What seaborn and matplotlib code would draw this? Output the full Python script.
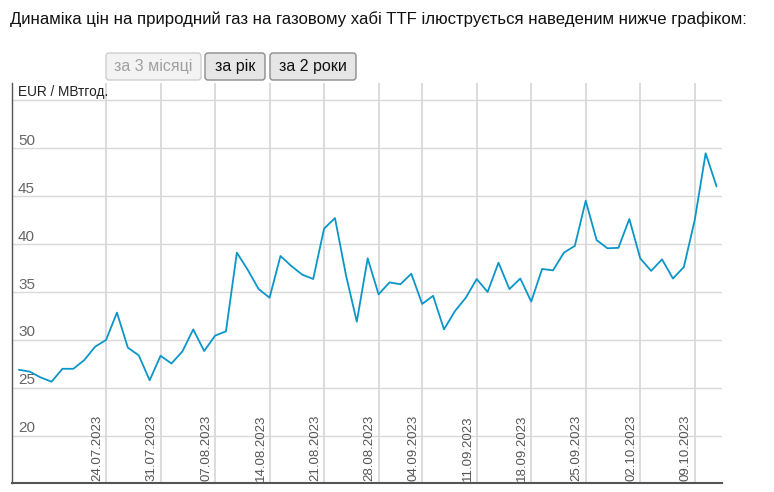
import matplotlib
matplotlib.use("Agg")
import matplotlib.pyplot as plt
import matplotlib.transforms as mtransforms
from matplotlib.patches import FancyBboxPatch
import seaborn as sns
import pandas as pd

# ---- data ----
prices = [26.9, 26.7, 26.1, 25.65, 27.0, 27.0, 27.9, 29.3, 30.0, 32.85,
          29.2, 28.4, 25.8, 28.35, 27.55, 28.8, 31.1, 28.85, 30.45, 30.9,
          39.1, 37.3, 35.3, 34.4, 38.75, 37.7, 36.8, 36.35, 41.6, 42.7,
          36.8, 31.9, 38.5, 34.75, 36.0, 35.8, 36.9, 33.75, 34.6, 31.1,
          33.0, 34.4, 36.35, 35.0, 38.05, 35.3, 36.4, 34.0, 37.4, 37.25,
          39.1, 39.8, 44.5, 40.4, 39.55, 39.6, 42.6, 38.5, 37.2, 38.4,
          36.4, 37.6, 42.5, 49.45, 46.0]
trading_days = [d for d in pd.bdate_range("2023-07-12", "2023-10-11")
                if d != pd.Timestamp("2023-08-28")]
tick_labels = ["24.07.2023", "31.07.2023", "07.08.2023", "14.08.2023",
               "21.08.2023", "28.08.2023", "04.09.2023", "11.09.2023",
               "18.09.2023", "25.09.2023", "02.10.2023", "09.10.2023"]
y_ticks = [20, 25, 30, 35, 40, 45, 50, 55]
y_tick_labels = ["20", "25", "30", "35", "40", "45", "50", ""]
title = "Динаміка цін на природний газ на газовому хабі TTF ілюструється наведеним нижче графіком:"
buttons = ["за 3 місяці", "за рік", "за 2 роки"]
unit_label = "EUR / МВтгод."

df = pd.DataFrame({"idx": range(len(prices)), "price": prices})

# tick positions: first trading day on/after each label date
tick_pos = []
for lab in tick_labels:
    d = pd.to_datetime(lab, format="%d.%m.%Y")
    tick_pos.append(next(i for i, t in enumerate(trading_days) if t >= d))

sns.set_style("white")
plt.rcParams["font.family"] = ["Liberation Sans", "DejaVu Sans"]

W, H = 774, 492
fig = plt.figure(figsize=(W / 100, H / 100), dpi=100)
ax = fig.add_axes([12.5 / W, 9 / H, (722 - 12.5) / W, (483 - 83) / H])

sns.lineplot(data=df, x="idx", y="price", ax=ax, color="#0a96c8",
             linewidth=1.3, legend=False)

ax.set_xlim(-0.58, 64.5)
ax.set_ylim(15.1, 56.77)
ax.set_xlabel("")
ax.set_ylabel("")

ax.set_yticks(y_ticks)
ax.set_xticks(tick_pos)
ax.tick_params(axis="both", length=0, labelleft=False, labelbottom=False)
ax.grid(True, axis="y", color="#d9d9d9", linewidth=1.0)
ax.grid(True, axis="x", color="#dcdcdc", linewidth=1.4)
ax.set_axisbelow(True)

for s in ["top", "right"]:
    ax.spines[s].set_visible(False)
ax.spines["left"].set_color("#555555")
ax.spines["left"].set_linewidth(1.0)
ax.spines["bottom"].set_color("#555555")
ax.spines["bottom"].set_linewidth(1.5)

# y tick labels inside, above gridlines
ytrans = mtransforms.blended_transform_factory(ax.transAxes, ax.transData)
off_y = mtransforms.ScaledTranslation(0, 2.5 / 72, fig.dpi_scale_trans)
for v, lab in zip(y_ticks, y_tick_labels):
    if lab:
        ax.text(5.5 / (722 - 12.5), v, lab, transform=ytrans + off_y,
                ha="left", va="baseline", fontsize=11, color="#666666")

# x tick labels rotated inside, left of gridlines
xtrans = mtransforms.blended_transform_factory(ax.transData, ax.transAxes)
off_x = mtransforms.ScaledTranslation(-3 / 100, 2 / 100, fig.dpi_scale_trans)
for p, lab in zip(tick_pos, tick_labels):
    ax.text(p, 0, lab, transform=xtrans + off_x, rotation=90,
            ha="right", va="bottom", fontsize=9.5, color="#555555")

# unit label
ax.text(18 / W, 1 - 92 / H, unit_label, transform=fig.transFigure,
        ha="left", va="center", fontsize=9.8, color="#222222")

# title
fig.text(10 / W, 1 - 19 / H, title, ha="left", va="center",
         fontsize=12.1, color="#111111")

# buttons
ident = mtransforms.IdentityTransform()
btn_boxes = [(106, 201), (205, 265), (270, 356)]
for i, (lab, (x0, x1)) in enumerate(zip(buttons, btn_boxes)):
    disabled = i == 0
    y0, y1 = 53, 80
    patch = FancyBboxPatch((x0, H - y1), x1 - x0, y1 - y0,
                           boxstyle="round,pad=0,rounding_size=3",
                           transform=ident,
                           facecolor="#f3f3f3" if disabled else "#e6e6e6",
                           edgecolor="#cfcfcf" if disabled else "#8c8c8c",
                           linewidth=1.0)
    fig.patches.append(patch)
    fig.text((x0 + x1) / 2 / W, 1 - 67 / H, lab, ha="center", va="center",
             fontsize=11.5, color="#a0a0a0" if disabled else "#111111")

fig.savefig("out.png", dpi=100)
